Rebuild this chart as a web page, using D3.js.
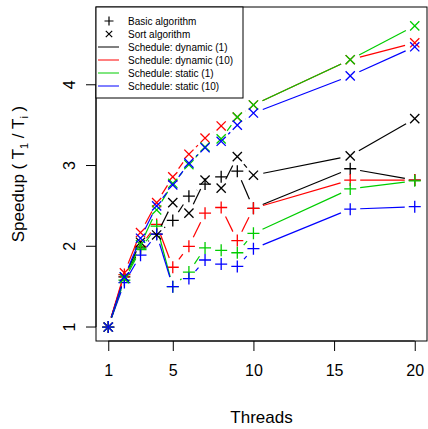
<!DOCTYPE html>
<html>
  <head>
    <script src="https://d3js.org/d3.v7.min.js"></script>
    <style>
      body { margin: 0; background: #fff; }
      text { font-family: "Liberation Sans", Arial, sans-serif; }
    </style>
  </head>
  <body>
    <div id="chart"></div>
    <script>
      const threads = [1, 2, 3, 4, 5, 6, 7, 8, 9, 10, 16, 20];

      // basic algorithm
      const dynamic1Basic  = [1, 1.62, 1.98, 2.15, 2.32, 2.62, 2.77, 2.86, 2.93, 2.47, 2.96, 2.82];
      const dynamic10Basic = [1, 1.65, 2.00, 2.27, 1.74, 2.00, 2.41, 2.48, 2.07, 2.47, 2.82, 2.82];
      const static1Basic   = [1, 1.58, 1.96, 2.25, 1.50, 1.68, 1.98, 1.95, 1.92, 2.16, 2.71, 2.81];
      const static10Basic  = [1, 1.55, 1.89, 2.15, 1.50, 1.60, 1.83, 1.78, 1.75, 1.97, 2.46, 2.49];

      // sort algorithm
      const dynamic1Sort  = [1, 1.62, 2.05, 2.14, 2.54, 2.41, 2.82, 2.72, 3.11, 2.88, 3.12, 3.58];
      const dynamic10Sort = [1, 1.67, 2.17, 2.54, 2.86, 3.14, 3.34, 3.49, 3.60, 3.75, 4.31, 4.52];
      const static1Sort   = [1, 1.60, 2.02, 2.45, 2.78, 3.01, 3.23, 3.33, 3.60, 3.75, 4.31, 4.73];
      const static10Sort  = [1, 1.62, 2.10, 2.50, 2.76, 3.03, 3.22, 3.30, 3.50, 3.65, 4.11, 4.47];

      const xTicks = [1, 5, 10, 15, 20];
      const yTicks = [1, 2, 3, 4];

      const schedules = ['Schedule: dynamic (1)', 'Schedule: dynamic (10)', 'Schedule: static (1)', 'Schedule: static (10)'];
      const colors = ['#000000', '#ff0000', '#00cd00', '#0000ff'];

      const series = [
        { values: dynamic1Basic,  color: colors[0], pch: 'plus' },
        { values: dynamic10Basic, color: colors[1], pch: 'plus' },
        { values: static1Basic,   color: colors[2], pch: 'plus' },
        { values: static10Basic,  color: colors[3], pch: 'plus' },
        { values: dynamic1Sort,   color: colors[0], pch: 'cross' },
        { values: dynamic10Sort,  color: colors[1], pch: 'cross' },
        { values: static1Sort,    color: colors[2], pch: 'cross' },
        { values: static10Sort,   color: colors[3], pch: 'cross' }
      ];

      const width = 428, height = 429;
      const box = { left: 96, top: 7, right: 427, bottom: 341 };

      const svg = d3.select('#chart').append('svg')
        .attr('width', width)
        .attr('height', height);

      // R style 4% axis extension
      const xmin = 1, xmax = 20, ymin = 0.827, ymax = 4.963;
      const x = d3.scaleLinear()
        .domain([xmin - (xmax - xmin) * 0.04, xmax + (xmax - xmin) * 0.04])
        .range([box.left, box.right]);
      const y = d3.scaleLinear()
        .domain([ymin, ymax])
        .range([box.bottom, box.top]);

      const plot = svg.append('g');

      function plusPath(px, py, r) {
        return `M${px - r},${py}H${px + r}M${px},${py - r}V${py + r}`;
      }
      function crossPath(px, py, r) {
        return `M${px - r},${py - r}L${px + r},${py + r}M${px - r},${py + r}L${px + r},${py - r}`;
      }

      const gap = 10;
      series.forEach(s => {
        const pts = threads.map((t, i) => [x(t), y(s.values[i])]);
        // type = "b": segments with gaps around the points
        for (let i = 0; i < pts.length - 1; i++) {
          const [x1, y1] = pts[i], [x2, y2] = pts[i + 1];
          const dx = x2 - x1, dy = y2 - y1;
          const len = Math.sqrt(dx * dx + dy * dy);
          if (len <= 2 * gap) continue;
          const ux = dx / len, uy = dy / len;
          plot.append('line')
            .attr('x1', x1 + ux * gap).attr('y1', y1 + uy * gap)
            .attr('x2', x2 - ux * gap).attr('y2', y2 - uy * gap)
            .attr('stroke', s.color)
            .attr('stroke-width', 1.2);
        }
        plot.selectAll(null)
          .data(pts)
          .enter()
          .append('path')
          .attr('d', d => s.pch === 'plus' ? plusPath(d[0], d[1], 6) : crossPath(d[0], d[1], 4.6))
          .attr('stroke', s.color)
          .attr('stroke-width', 1.3)
          .attr('fill', 'none');
      });

      // axes
      const xAxis = svg.append('g').attr('transform', `translate(0,${box.bottom})`)
        .call(d3.axisBottom(x).tickValues(xTicks).tickSize(10).tickPadding(14));
      xAxis.select('.domain').attr('d', `M${x(1)},0H${x(20)}`);
      xAxis.selectAll('text').attr('font-size', 16).attr('fill', '#000')
        .style('font-family', '"Liberation Sans", Arial, sans-serif');

      const yAxis = svg.append('g').attr('transform', `translate(${box.left},0)`)
        .call(d3.axisLeft(y).tickValues(yTicks).tickFormat(d3.format('d')).tickSize(10).tickPadding(0));
      yAxis.select('.domain').attr('d', `M0,${y(1)}V${y(4)}`);
      yAxis.selectAll('text')
        .attr('font-size', 16).attr('fill', '#000')
        .attr('x', null).attr('dy', null)
        .attr('text-anchor', 'middle')
        .attr('transform', d => `translate(-27,${y(d)}) rotate(-90)`)
        .attr('y', 0)
        .attr('dominant-baseline', 'central')
        .style('font-family', '"Liberation Sans", Arial, sans-serif');
      yAxis.selectAll('.tick').attr('transform', null);
      yAxis.selectAll('.tick line').attr('y1', d => y(d)).attr('y2', d => y(d));

      // plot frame
      svg.append('rect')
        .attr('x', box.left).attr('y', box.top)
        .attr('width', box.right - box.left).attr('height', box.bottom - box.top)
        .attr('fill', 'none').attr('stroke', '#000').attr('stroke-width', 1);

      // axis titles
      svg.append('text')
        .attr('x', (box.left + box.right) / 2)
        .attr('y', 423)
        .attr('text-anchor', 'middle')
        .attr('font-size', 17)
        .text('Threads');

      const yl = svg.append('text')
        .attr('transform', `translate(24,${(box.top + box.bottom) / 2}) rotate(-90)`)
        .attr('text-anchor', 'middle')
        .attr('font-size', 17);
      yl.append('tspan').text('Speedup ( T');
      yl.append('tspan').attr('font-size', 11).attr('dy', 4).text('1');
      yl.append('tspan').attr('dy', -4).text(' / T');
      yl.append('tspan').attr('font-size', 11).attr('dy', 4).text('i');
      yl.append('tspan').attr('dy', -4).text(' )');

      // legend
      const legend = svg.append('g');
      legend.append('rect')
        .attr('x', box.left).attr('y', box.top)
        .attr('width', 147).attr('height', 91)
        .attr('fill', '#fff').attr('stroke', '#000').attr('stroke-width', 1);
      const rowY = [21, 34, 47, 60, 73, 86];
      const labels = ['Basic algorithm', 'Sort algorithm'].concat(schedules);
      labels.forEach((lab, i) => {
        const cy = rowY[i];
        if (i === 0) {
          legend.append('path').attr('d', plusPath(109, cy, 4.5)).attr('stroke', '#000').attr('stroke-width', 1.2);
        } else if (i === 1) {
          legend.append('path').attr('d', crossPath(109, cy, 3.2)).attr('stroke', '#000').attr('stroke-width', 1.2);
        } else {
          legend.append('line').attr('x1', 98).attr('x2', 119).attr('y1', cy).attr('y2', cy)
            .attr('stroke', colors[i - 2]).attr('stroke-width', 1);
        }
        legend.append('text')
          .attr('x', 128).attr('y', cy)
          .attr('dominant-baseline', 'central')
          .attr('font-size', 10)
          .text(lab);
      });
    </script>
  </body>
</html>
